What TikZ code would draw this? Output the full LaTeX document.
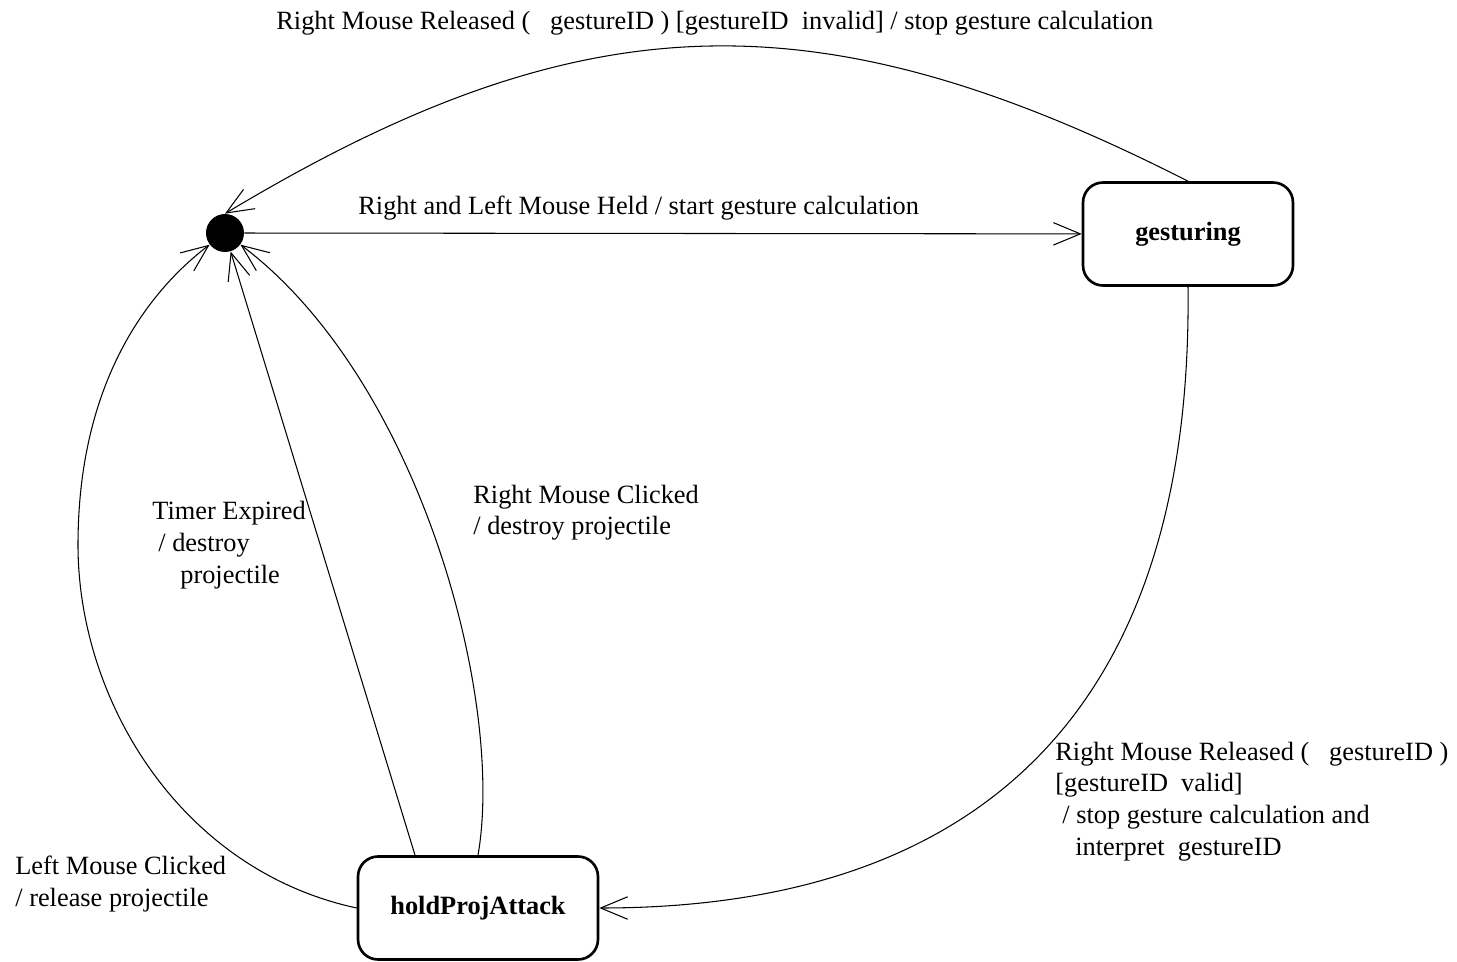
\documentclass[tikz,border=0pt]{standalone}
\usepackage{fontspec}
\setmainfont{Liberation Serif}
\usetikzlibrary{arrows.meta}

\begin{document}
\begin{tikzpicture}[x=0.02cm,y=-0.02cm,
	state/.style={draw,rounded corners=0.4cm,line width=1.5pt,minimum width=4.2cm,minimum height=2.06cm,font=\fontsize{15}{18}\selectfont\bfseries},
	trans/.style={line width=0.6pt,-{Straight Barb[length=0.54cm,width=0.45cm]}},
	lbl/.style={anchor=base west,inner sep=0pt,font=\fontsize{15}{18}\selectfont,align=left}]
	\useasboundingbox (0,0) rectangle (1457,962);
	\node[circle,fill,inner sep=0pt,minimum size=0.76cm] (init) at (225,233) {};
	\node[state] (gest) at (1188,234) {gesturing};
	\node[state,minimum width=4.8cm] (hold) at (478,908) {holdProjAttack};
	\draw[trans] (init) -- (gest);
	\draw[trans] (gest.north) .. controls (818,-7) and (582,-1) .. (init.north);
	\draw[trans] (gest.south) .. controls (1193,700) and (990,908) .. (hold.east);
	\draw[trans] (hold.west) .. controls (180,870) and (78,700) .. (78,545) .. controls (78,380) and (150,290) .. (init);
	\draw[trans] ([xshift=-1.26cm]hold.north) -- (init);
	\draw[trans] (hold.north) .. controls (505,700) and (420,380) .. (init);
	\node[lbl] (topLbl) at (276,30) {Right Mouse Released (\ \ \ gestureID ) [gestureID\ \ invalid] / stop gesture calculation};
	\node[lbl] (heldLbl) at (358,215) {Right and Left Mouse Held / start gesture calculation};
	\node[lbl] (validLbl) at (1055,855) {Right Mouse Released (\ \ \ gestureID )\\\relax [gestureID\ \ valid]\\\hspace*{0.14cm}/ stop gesture calculation and\\\hspace*{0.4cm}interpret\ \ gestureID};
	\node[lbl] (timerLbl) at (152,583) {Timer Expired\\\hspace*{0.12cm}/ destroy\\\hspace*{0.56cm}projectile};
	\node[lbl] (rclickLbl) at (473,535) {Right Mouse Clicked\\/ destroy projectile};
	\node[lbl] (lclickLbl) at (15,906) {Left Mouse Clicked\\/ release projectile};
\end{tikzpicture}
\end{document}
